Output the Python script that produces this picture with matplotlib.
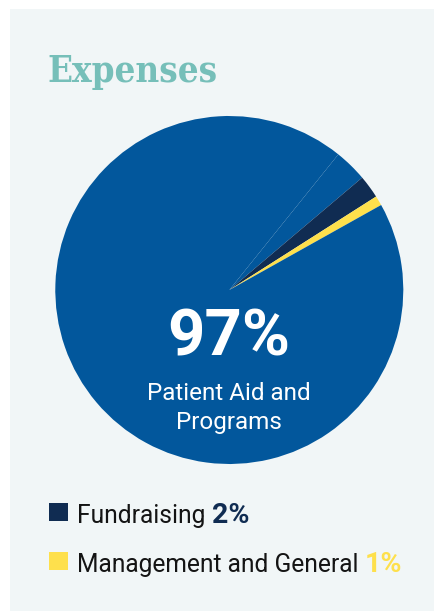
import matplotlib
matplotlib.use('Agg')
import matplotlib.pyplot as plt
from matplotlib.patches import Rectangle

# data
slice_labels = ['Patient Aid and Programs (a)', 'Fundraising', 'Management and General',
                'Patient Aid and Programs (b)']
slice_values = [3.05, 2.15, 0.9, 93.9]
slice_colors = ['#02579c', '#102c52', '#fee04c', '#02579c']
main_pct = '97%'
main_label = ['Patient Aid and', 'Programs']
legend_names = ['Fundraising', 'Management and General']
legend_pcts = ['2%', '1%']
legend_colors = ['#102c52', '#fee04c']

W, H = 435, 611
fig = plt.figure(figsize=(W / 100, H / 100), dpi=100)
fig.patch.set_facecolor('white')

def fx(px):
    return px / W

def fy(py):
    return (H - py) / H

# light panel
fig.patches.append(Rectangle((fx(10), 0), 1 - fx(10), fy(9), transform=fig.transFigure,
                             facecolor='#f1f6f7', edgecolor='none', zorder=-5))

# pie
cx, cy, r = 229.3, 290, 174
ax = fig.add_axes([fx(cx - r), fy(cy + r), 2 * r / W, 2 * r / H])
ax.set_zorder(1)
ax.patch.set_alpha(0)
ax.pie(slice_values, colors=slice_colors, startangle=51.2, counterclock=False,
       radius=1, wedgeprops=dict(linewidth=0))
ax.set_xlim(-1, 1)
ax.set_ylim(-1, 1)
ax.set_aspect('equal')
ax.axis('off')

fig.text(fx(47), fy(82), 'Expenses', family='DejaVu Serif', weight='bold',
         stretch='condensed', fontsize=26.3, color='#76bfb9', va='baseline', ha='left',
         zorder=3)

fig.text(fx(229), fy(356), main_pct, family='Roboto', weight='bold', fontsize=47,
         color='white', va='baseline', ha='center', zorder=3)
fig.text(fx(229), fy(400), main_label[0], family='Roboto', fontsize=17.5,
         color='white', va='baseline', ha='center', zorder=3)
fig.text(fx(229), fy(429), main_label[1], family='Roboto', fontsize=17.5,
         color='white', va='baseline', ha='center', zorder=3)

# legend
renderer = fig.canvas.get_renderer()
rows_y = [523, 572]
for name, pct, col, by in zip(legend_names, legend_pcts, legend_colors, rows_y):
    fig.patches.append(Rectangle((fx(49), fy(by - 2)), 18.5 / W, 18 / H,
                                 transform=fig.transFigure, facecolor=col,
                                 edgecolor='none', zorder=2))
    t = fig.text(fx(77.5), fy(by), name + ' ', family='Roboto', fontsize=17.7,
                 color='#141414', va='baseline', ha='left', zorder=3)
    bb = t.get_window_extent(renderer)
    fig.text(bb.x1 / W, fy(by), pct, family='Roboto', weight='bold', fontsize=20.5,
             color=col, va='baseline', ha='left', zorder=3)

fig.savefig('out.png', dpi=100, facecolor='white')
